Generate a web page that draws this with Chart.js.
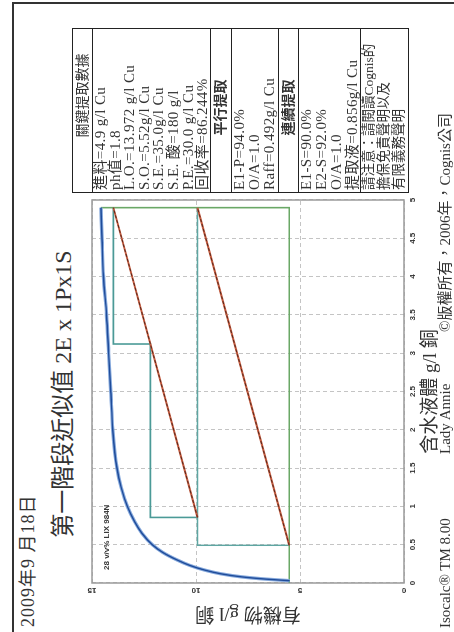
<!DOCTYPE html>
<html>
<head>
<meta charset="utf-8">
<script src="https://cdn.jsdelivr.net/npm/chart.js@4/dist/chart.umd.min.js"></script>
<style>
  html, body { margin: 0; padding: 0; background: #fff; overflow: hidden; }
  /* The sheet is laid out landscape and turned a quarter turn counter-clockwise */
  #page {
    position: absolute; left: 0; top: 0;
    width: 632px; height: 454px;
    transform-origin: 0 0;
    transform: translateY(632px) rotate(-90deg);
    background: #fff;
    font-family: "Liberation Serif", "Noto Sans CJK TC", serif;
    color: #333;
  }
  #frame {
    position: absolute; left: -10px; top: 12px; width: 640px; height: 460px;
    box-sizing: border-box; border-top: 2px solid #333; border-right: 2px solid #333;
  }
  #date { position: absolute; left: 5px; top: 17px; font-size: 18px; line-height: 22px; letter-spacing: 1px; white-space: nowrap; }
  #title { position: absolute; left: 0; width: 476px; top: 48px; font-size: 24px; line-height: 30px; text-align: center; white-space: nowrap; }
  #chart { position: absolute; left: 0; top: 80px; }
  #table {
    position: absolute; left: 439px; top: 72px; width: 165px;
    box-sizing: border-box; border: 1.5px solid #222; font-size: 15px; letter-spacing: 0.4px;
  }
  #table .row { box-sizing: border-box; border-bottom: 1.5px solid #222; overflow: hidden; white-space: nowrap; }
  #table .row:last-child { border-bottom: none; }
  #table .head { text-align: center; letter-spacing: 0; }
  #table .lines { padding-left: 2px; }
  #footer div { position: absolute; top: 437px; font-size: 15px; line-height: 17px; white-space: nowrap; }
</style>
</head>
<body>
<div id="page">
  <div id="frame"></div>
  <div id="date"></div>
  <div id="title"></div>
  <canvas id="chart" width="440" height="374"></canvas>
  <div id="table"></div>
  <div id="footer"></div>
</div>
<script>
// Equilibrium isotherm: aqueous Cu (g/l) vs organic Cu (g/l)
const isoAqueous = [0.03, 0.05, 0.08, 0.12, 0.17, 0.23, 0.3, 0.4, 0.5, 0.65, 0.8, 1.0, 1.25, 1.5, 2.0, 2.5, 3.0, 3.5, 4.0, 4.5, 4.9];
const isoOrganic = [5.5, 6.6, 7.8, 8.8, 9.6, 10.3, 10.9, 11.6, 12.1, 12.6, 12.95, 13.3, 13.6, 13.8, 14.0, 14.1, 14.2, 14.3, 14.45, 14.52, 14.57];

// Operating lines (O/A = 1.0)
const seriesOpAqueous = [0.856, 4.9];
const seriesOpOrganic = [9.928, 13.972];
const parallelOpAqueous = [0.492, 4.9];
const parallelOpOrganic = [5.52, 9.928];

// Stage steps
const seriesStepAqueous = [4.9, 3.12, 3.12, 0.856, 0.856];
const seriesStepOrganic = [13.972, 13.972, 12.192, 12.192, 9.928];
const parallelStepAqueous = [4.9, 0.492, 0.492];
const parallelStepOrganic = [9.928, 9.928, 5.52];

// Feed and stripped-organic lines
const feedAqueous = [0, 4.9, 4.9];
const feedOrganic = [5.52, 5.52, 14.57];

// Axis ranges and ticks
const aqueousRange = [0, 5];
const aqueousStep = 0.5;
const organicRange = [0, 15];
const organicStep = 5;

// Texts
const dateText = '2009年9 月18日';
const titleText = '第一階段近似值 2E x 1Px1S';
const xTitle = '含水液體 g/l 銅';
const yTitle = '有機物 g/l 銅';
const extractantLabel = '28 v/v% LIX 984N';
const extractantLabelAt = [0.17, 14.28];

const tableRows = [
  { head: true, bold: false, h: 20, shift: 30, lines: ['關鍵提取數據'] },
  { head: false, h: 118, lh: 14.6, lines: ['進料=4.9 g/l Cu', 'ph值=1.8', 'L.O.=13.972 g/l Cu', 'S.O.=5.52g/l Cu', 'S.E.=35.0g/l Cu', 'S.E. 酸=180 g/l', 'P.E.=30.0 g/l Cu', '回收率=86.244%'] },
  { head: true, bold: true, h: 21, shift: 6, lines: ['平行提取'] },
  { head: false, h: 47, lh: 15.2, lines: ['E1-P=94.0%', 'O/A=1.0', 'Raff=0.492g/l Cu'] },
  { head: true, bold: true, h: 20, shift: 6, lines: ['連續提取'] },
  { head: false, h: 62, lh: 15.2, lines: ['E1-S=90.0%', 'E2-S=92.0%', 'O/A=1.0', '提取液=0.856g/l Cu'] },
  { head: false, h: 47, lh: 15.2, small: true, lines: ['請注意：請閱讀Cognis的', '擔保免責聲明以及', '有限義務聲明'] }
];

const footerTexts = [
  { text: 'Isocalc® TM 8.00', left: 4 },
  { text: 'Lady Annie', left: 178 },
  { text: '©版權所有，2006年，Cognis公司', left: 300 }
];

document.getElementById('date').textContent = dateText;
document.getElementById('title').textContent = titleText;

const table = document.getElementById('table');
tableRows.forEach(r => {
  const d = document.createElement('div');
  d.className = 'row ' + (r.head ? 'head' : 'lines');
  d.style.height = r.h + 'px';
  if (r.head) {
    d.style.lineHeight = (r.h - 1) + 'px';
    d.style.fontSize = '14px';
    d.style.fontWeight = r.bold ? 'bold' : 'normal';
    d.style.paddingLeft = (r.shift || 0) + 'px';
  } else {
    d.style.lineHeight = r.lh + 'px';
    if (r.small) { d.style.fontSize = '13.5px'; d.style.letterSpacing = '0'; }
  }
  d.innerHTML = r.lines.map(t => '<div>' + t + '</div>').join('');
  table.appendChild(d);
});

const footer = document.getElementById('footer');
footerTexts.forEach(f => {
  const d = document.createElement('div');
  d.textContent = f.text;
  d.style.left = f.left + 'px';
  footer.appendChild(d);
});

const pts = (xs, ys) => xs.map((x, i) => ({ x, y: ys[i] }));

const tickFont = { family: '"Liberation Sans", Arial, sans-serif', size: 8, weight: 'bold' };
const titleFont = { family: '"Liberation Serif", "Noto Sans CJK TC", serif', size: 19 };
const plainNumber = v => String(Math.round(v * 10) / 10);

const plotFrame = {
  id: 'plotFrame',
  beforeDatasetsDraw(chart) {
    const { ctx, chartArea: a } = chart;
    ctx.save();
    ctx.strokeStyle = '#9a9a9a';
    ctx.lineWidth = 1.5;
    ctx.strokeRect(a.left, a.top, a.right - a.left, a.bottom - a.top);
    ctx.restore();
  }
};

const extractantText = {
  id: 'extractantText',
  afterDatasetsDraw(chart) {
    const { ctx, scales } = chart;
    const x = scales.x.getPixelForValue(extractantLabelAt[0]);
    const y = scales.y.getPixelForValue(extractantLabelAt[1]);
    ctx.save();
    ctx.font = 'bold 8px "Liberation Sans", Arial, sans-serif';
    ctx.fillStyle = '#333';
    ctx.textAlign = 'left';
    ctx.textBaseline = 'middle';
    ctx.fillText(extractantLabel, x, y);
    ctx.restore();
  }
};

const line = (xs, ys, color, width, extra) =>
  Object.assign({ data: pts(xs, ys), showLine: true, borderColor: color, borderWidth: width, pointRadius: 0 }, extra || {});

new Chart(document.getElementById('chart'), {
  type: 'scatter',
  data: {
    datasets: [
      // isotherm: dark core over a pale halo
      line(isoAqueous, isoOrganic, '#1f4c9a', 1.4, { cubicInterpolationMode: 'monotone' }),
      line(isoAqueous, isoOrganic, '#86a9dc', 3.4, { cubicInterpolationMode: 'monotone' }),
      // operating lines: dark dashes over a red stroke
      line(seriesOpAqueous, seriesOpOrganic, '#4a2219', 0.9, { borderDash: [3, 2] }),
      line(parallelOpAqueous, parallelOpOrganic, '#4a2219', 0.9, { borderDash: [3, 2] }),
      line(seriesOpAqueous, seriesOpOrganic, '#c45a3e', 2, {}),
      line(parallelOpAqueous, parallelOpOrganic, '#c45a3e', 2, {}),
      // stage steps
      line(seriesStepAqueous, seriesStepOrganic, '#4b9a97', 1.6),
      line(parallelStepAqueous, parallelStepOrganic, '#5ea6a2', 1.4),
      // feed / stripped organic
      line(feedAqueous, feedOrganic, '#6aa866', 1.6)
    ]
  },
  options: {
    responsive: false,
    animation: false,
    devicePixelRatio: 1,
    layout: { padding: { left: 0, right: 8, top: 12, bottom: 0 } },
    plugins: { legend: { display: false }, tooltip: { enabled: false } },
    scales: {
      x: {
        type: 'linear', min: aqueousRange[0], max: aqueousRange[1],
        ticks: { stepSize: aqueousStep, padding: 4, font: tickFont, color: '#333', callback: plainNumber },
        grid: { color: '#c4c4c4', lineWidth: 1, drawTicks: false },
        border: { display: false, dash: [4, 3] },
        title: { display: true, text: xTitle, font: titleFont, color: '#333', padding: { top: 0, bottom: 12 } },
        afterFit(s) { s.height = 50; }
      },
      y: {
        type: 'linear', min: organicRange[0], max: organicRange[1],
        ticks: { stepSize: organicStep, padding: 3, font: tickFont, color: '#333', minRotation: 90, maxRotation: 90, crossAlign: 'center', callback: plainNumber },
        grid: { color: '#c4c4c4', lineWidth: 1, drawTicks: false },
        border: { display: false, dash: [4, 3] },
        title: { display: true, text: yTitle, font: titleFont, color: '#333', padding: { top: 8, bottom: 0 } },
        afterFit(s) { s.width = 49; }
      }
    }
  },
  plugins: [plotFrame, extractantText]
});
</script>
</body>
</html>
